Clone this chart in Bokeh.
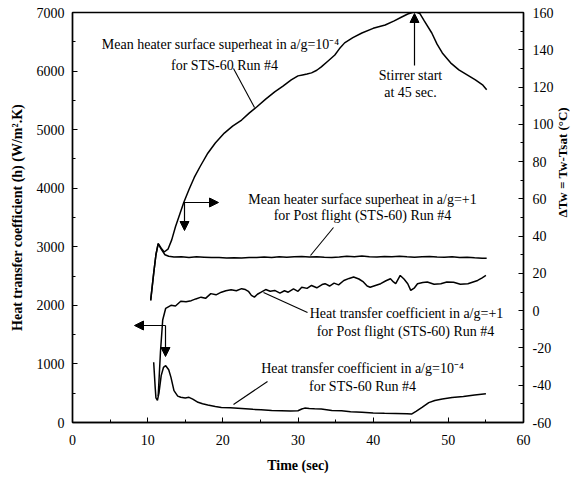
import math
from bokeh.plotting import figure
from bokeh.models import Range1d, LinearAxis, FixedTicker, Label, Arrow, NormalHead
from bokeh.embed import file_html
from bokeh.resources import INLINE

# ---------------- data ----------------
# Mean heater surface superheat, a/g = 1e-4 (STS-60 Run #4)  [deg C, right axis]
sh_low_t = [10.4, 10.8, 11.1, 11.4, 11.8, 12.2, 12.7, 13.2, 13.7, 14.2, 14.8, 15.5, 16.2, 17.0,
            18.0, 19.0, 20.2, 21.3, 22.5, 23.5, 24.5, 25.7, 26.9, 28.0, 29.1, 30.0, 30.6, 31.2,
            31.8, 32.5, 33.1, 34.0, 34.9, 35.5, 36.2, 37.3, 38.5, 40.0, 41.6, 42.8, 43.8, 44.6,
            45.2, 45.7, 46.2, 46.8, 47.8, 48.5, 49.2, 50.3, 51.4, 52.5, 53.6, 54.6, 55.1]
sh_low_dT = [5.5, 20, 30, 36, 33.5, 31.5, 33, 38, 45, 51, 58, 65, 71.5, 77.5,
             84.5, 90, 95.3, 99, 102.3, 106, 109.3, 113.5, 117.4, 120.5, 123.8, 126, 126.5, 127,
             127.6, 129, 130.8, 134, 137.2, 140.5, 143.7, 146.5, 149, 151.5, 153.3, 155.5, 157.6, 159.2,
             160, 160.3, 159.5, 155.5, 149, 143, 138.3, 133, 129.2, 126.5, 123.8, 121, 118.5]

# Mean heater surface superheat, a/g = +1 (Post flight)  [deg C, right axis]
sh_post_t = [10.4, 10.8, 11.1, 11.4, 11.8, 12.3, 12.8, 13.5, 14.5, 15.5, 16.5, 17.5, 18.5, 19.5,
             20.5, 21.5, 22.5, 23.5, 24.5, 25.5, 26.5, 27.5, 28.5, 29.5, 30.5, 31.5, 32.5, 33.5,
             34.5, 35.5, 36.5, 37.5, 38.5, 39.5, 40.5, 41.5, 42.5, 43.5, 44.5, 45.5, 46.5, 47.5,
             48.5, 49.5, 50.5, 51.5, 52.5, 53.5, 54.5, 55.1]
sh_post_dT = [5.5, 20, 30, 36, 33, 30, 29.2, 28.8, 28.9, 28.6, 28.9, 28.7, 28.5, 28.6,
              28.3, 28.4, 28.3, 28.6, 28.5, 28.8, 28.6, 28.9, 28.7, 28.9, 29.1, 28.8, 29.0, 28.7,
              28.5, 28.8, 29.2, 29.0, 29.3, 29.0, 28.8, 29.1, 28.9, 29.2, 28.9, 28.7, 28.9, 29.1,
              28.8, 28.7, 28.9, 28.6, 28.7, 28.4, 28.2, 28.1]

# Heat transfer coefficient, a/g = +1 (Post flight)  [W/m2.K, left axis]
htc_post_t = [11.4, 11.7, 12.0, 12.4, 13.1, 13.7, 14.4, 15.1, 15.8, 16.4, 17.1, 17.7, 18.4, 19.1,
              19.8, 20.4, 21.1, 21.8, 22.5, 23.0, 23.4, 23.8, 24.2, 24.6, 25.1, 25.7, 26.3, 26.9,
              27.6, 28.2, 28.7, 29.4, 30.0, 30.5, 31.2, 31.8, 32.5, 33.2, 33.6, 34.2, 34.8, 35.4,
              36.1, 36.8, 37.4, 38.1, 38.7, 39.2, 39.6, 40.3, 41.0, 41.7, 42.3, 42.7, 43.0, 43.6,
              44.1, 44.6, 45.0, 45.5, 45.9, 46.6, 47.2, 48.1, 49.0, 49.8, 50.7, 51.6, 52.6, 53.3,
              53.9, 54.5, 55.0]
htc_post_h = [450, 1200, 1750, 1950, 2000, 1990, 2070, 2060, 2080, 2110, 2140, 2120, 2200, 2180,
              2225, 2250, 2265, 2250, 2285, 2270, 2240, 2170, 2140, 2190, 2225, 2270, 2240, 2255,
              2210, 2250, 2225, 2280, 2240, 2310, 2290, 2340, 2300, 2355, 2370, 2330, 2380, 2350,
              2425, 2460, 2485, 2450, 2400, 2330, 2310, 2340, 2370, 2420, 2455, 2400, 2370, 2510,
              2450, 2370, 2255, 2300, 2370, 2390, 2400, 2360, 2370, 2400, 2395, 2360, 2370, 2400,
              2425, 2470, 2510]

# Heat transfer coefficient, a/g = 1e-4 (STS-60 Run #4)  [W/m2.K, left axis]
htc_low_t = [10.8, 11.0, 11.1, 11.3, 11.5, 11.8, 12.1, 12.4, 12.8, 13.1, 13.5, 14.0, 14.4, 15.0,
             15.5, 16.0, 16.7, 17.3, 18.0, 19.0, 19.8, 21.0, 22.5, 24.0, 25.1, 26.5, 27.8, 29.0,
             30.0, 30.5, 30.9, 31.5, 32.2, 33.1, 34.5, 35.8, 37.0, 38.5, 40.0, 41.5, 43.0, 44.5,
             45.1, 45.7, 46.5, 47.4, 48.2, 49.2, 50.5, 52.0, 53.5, 55.0]
htc_low_h = [1030, 600, 420, 380, 500, 800, 940, 970, 900, 770, 545, 450, 430, 420,
             430, 400, 345, 320, 300, 275, 257, 250, 240, 225, 217, 205, 200, 195,
             200, 230, 246, 240, 235, 229, 205, 200, 185, 175, 162, 156, 155, 150,
             144, 190, 257, 340, 375, 400, 425, 445, 470, 490]

x_ticks = [0, 10, 20, 30, 40, 50, 60]
x_minor = [5, 15, 25, 35, 45, 55]
h_ticks = [0, 1000, 2000, 3000, 4000, 5000, 6000, 7000]
h_minor = [500, 1500, 2500, 3500, 4500, 5500, 6500]
dT_ticks = [-60, -40, -20, 0, 20, 40, 60, 80, 100, 120, 140, 160]
dT_minor = [-50, -30, -10, 10, 30, 50, 70, 90, 110, 130, 150]

# ---------------- layout ----------------
FONT = "Liberation Serif"
W, H = 583, 479
L, R, T, B = 72, 60, 12, 57
X0, X1 = 0, 60
Y0, Y1 = 0, 7000


def sx(px):
    return X0 + (px - L) * (X1 - X0) / (W - L - R)


def sy(py):
    return Y0 + (H - B - py) * (Y1 - Y0) / (H - T - B)


p = figure(width=W, height=H, x_range=Range1d(X0, X1), y_range=Range1d(Y0, Y1),
           output_backend="svg", toolbar_location=None,
           min_border_left=L, min_border_right=R, min_border_top=T, min_border_bottom=B)
p.extra_y_ranges = {"dT": Range1d(-60, 160)}
p.grid.visible = False
p.outline_line_color = "black"
p.outline_line_width = 1.4
p.background_fill_color = "white"
p.border_fill_color = "white"


def style_axis(ax, ticks, minor):
    ax.ticker = FixedTicker(ticks=ticks, minor_ticks=minor)
    ax.major_label_overrides = {v: str(v) for v in ticks}
    ax.axis_line_color = "black"
    ax.axis_line_width = 1.4
    ax.major_tick_in = 5
    ax.major_tick_out = 0
    ax.minor_tick_in = 3
    ax.minor_tick_out = 0
    ax.major_tick_line_color = "black"
    ax.minor_tick_line_color = "black"
    ax.major_label_text_font = FONT
    ax.major_label_text_font_size = "14px"
    ax.major_label_text_color = "black"
    ax.axis_label_text_font = FONT
    ax.axis_label_text_font_size = "14px"
    ax.axis_label_text_font_style = "bold"
    ax.axis_label_text_color = "black"


xa = p.xaxis[0]
style_axis(xa, x_ticks, x_minor)
xa.axis_label = "Time (sec)"
xa.major_label_standoff = 12
xa.axis_label_standoff = 10

ya = p.yaxis[0]
style_axis(ya, h_ticks, h_minor)
ya.axis_label = "Heat transfer coefficient (h) (W/m\u00b2.K)"
ya.major_label_standoff = 8
ya.axis_label_standoff = 9

ra = LinearAxis(y_range_name="dT")
style_axis(ra, dT_ticks, dT_minor)
ra.major_label_standoff = 9
ra.axis_label = "\u0394Tw = Tw-Tsat (\u00b0C)"
ra.axis_label_text_font_size = "13px"
ra.axis_label_standoff = 6
ra.axis_label_orientation = math.pi / 2
p.add_layout(ra, "right")

# ---------------- curves ----------------
p.line(sh_low_t, sh_low_dT, y_range_name="dT", line_color="black", line_width=1.5)
p.line(sh_post_t, sh_post_dT, y_range_name="dT", line_color="black", line_width=1.5)
p.line(htc_post_t, htc_post_h, line_color="black", line_width=1.5)
p.line(htc_low_t, htc_low_h, line_color="black", line_width=1.5)

# ---------------- annotations ----------------
def txt(s, cx, cy, size="14px", align="center"):
    p.add_layout(Label(x=sx(cx), y=sy(cy), text=s, text_font=FONT, text_font_size=size,
                       text_align=align, text_baseline="middle", text_color="black"))


def leader(x0, y0, x1, y1):
    p.segment(x0=[sx(x0)], y0=[sy(y0)], x1=[sx(x1)], y1=[sy(y1)], line_color="black", line_width=1.1)


def arrow(x0, y0, x1, y1):
    p.add_layout(Arrow(end=NormalHead(size=9, fill_color="black", line_color="black", line_width=1),
                       x_start=sx(x0), y_start=sy(y0), x_end=sx(x1), y_end=sy(y1),
                       line_color="black", line_width=1.2))


txt("Mean heater surface superheat in a/g=10\u207b\u2074", 220, 44)
txt("for STS-60 Run #4", 224, 65)
leader(233, 68, 254, 107)

txt("Stirrer start", 410, 75)
txt("at 45 sec.", 410, 92)
arrow(414, 65, 414, 13)

txt("Mean heater surface superheat in a/g=+1", 362, 199)
txt("for Post flight (STS-60) Run #4", 362, 215)
leader(333, 227, 310, 255)

txt("Heat transfer coefficient in a/g=+1", 406, 313)
txt("for Post flight (STS-60) Run #4", 405, 331)
leader(263, 292, 307, 312)

txt("Heat transfer coefficient in a/g=10\u207b\u2074", 362, 368)
txt("for STS-60 Run #4", 362, 386)
leader(267, 381, 233, 404)

arrow(183, 202, 218, 202)
arrow(184, 202, 184, 230)
arrow(165, 325, 134, 325)
arrow(165, 325, 165, 356)

open("out.html", "w").write(file_html(p, INLINE))
